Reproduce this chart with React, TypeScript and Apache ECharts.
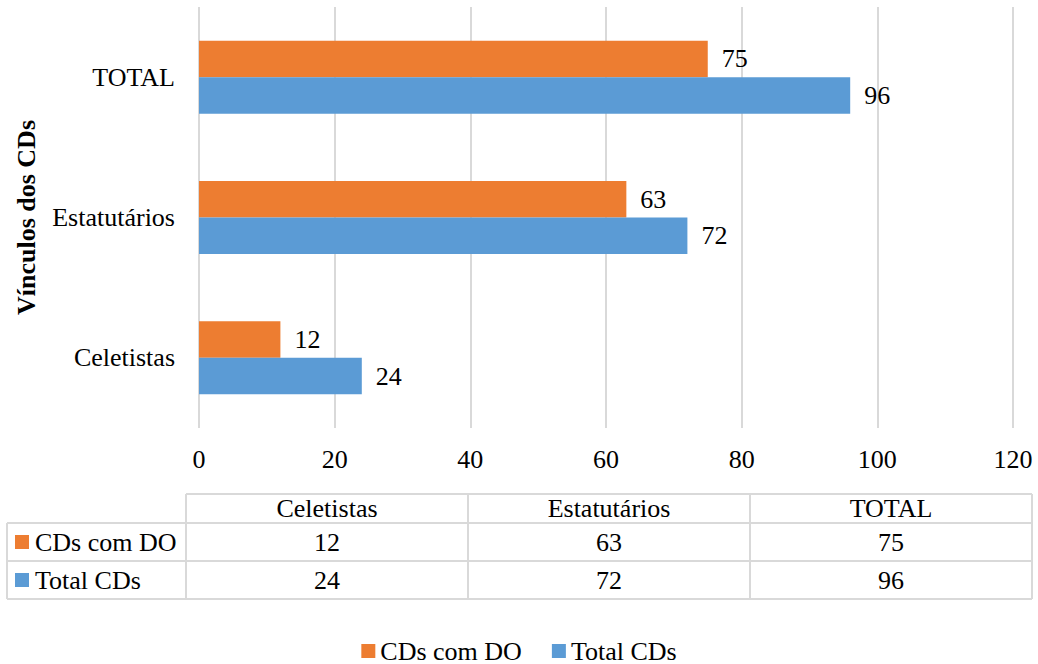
import React, { useEffect, useRef } from "react";
import * as echarts from "echarts";

const categories = ["Celetistas", "Estatutários", "TOTAL"];
const seriesNames = ["CDs com DO", "Total CDs"];
const comDO = [12, 63, 75];
const totalCDs = [24, 72, 96];
const axisTicks = [0, 20, 40, 60, 80, 100, 120];
const axisTitle = "Vínculos dos CDs";

const COLORS = ["#ED7D31", "#5B9BD5"];
const FONT = "'Liberation Serif', 'Times New Roman', serif";
const W = 1038;
const H = 664;

// data table geometry
const T_LEFT = 7;
const T_KEY_RIGHT = 186;
const T_RIGHT = 1032;
const T_ROWS = [494, 523, 561, 599];
const LINE = "#d9d9d9";

function buildTable() {
  const els: any[] = [];
  const colW = (T_RIGHT - T_KEY_RIGHT) / categories.length;
  const lineStyle = { stroke: LINE, lineWidth: 2 };
  // horizontal lines
  els.push({ type: "line", shape: { x1: T_KEY_RIGHT, y1: T_ROWS[0], x2: T_RIGHT, y2: T_ROWS[0] }, style: lineStyle });
  for (let i = 1; i < T_ROWS.length; i++) {
    els.push({ type: "line", shape: { x1: T_LEFT, y1: T_ROWS[i], x2: T_RIGHT, y2: T_ROWS[i] }, style: lineStyle });
  }
  // vertical lines
  els.push({ type: "line", shape: { x1: T_LEFT, y1: T_ROWS[1], x2: T_LEFT, y2: T_ROWS[3] }, style: lineStyle });
  for (let c = 0; c <= categories.length; c++) {
    const x = T_KEY_RIGHT + c * colW;
    els.push({ type: "line", shape: { x1: x, y1: T_ROWS[0], x2: x, y2: T_ROWS[3] }, style: lineStyle });
  }
  const rowsData = [comDO, totalCDs];
  const center = (r: number) => (T_ROWS[r] + T_ROWS[r + 1]) / 2;
  categories.forEach((cat, c) => {
    const cx = T_KEY_RIGHT + (c + 0.5) * colW;
    els.push({
      type: "text",
      x: cx,
      y: center(0),
      style: { text: cat, font: `26px ${FONT}`, fill: "#000", align: "center", verticalAlign: "middle" },
    });
    rowsData.forEach((arr, r) => {
      els.push({
        type: "text",
        x: cx,
        y: center(r + 1),
        style: { text: String(arr[c]), font: `26px ${FONT}`, fill: "#000", align: "center", verticalAlign: "middle" },
      });
    });
  });
  seriesNames.forEach((name, r) => {
    const cy = center(r + 1);
    els.push({ type: "rect", shape: { x: 15, y: cy - 7, width: 14, height: 14 }, style: { fill: COLORS[r] } });
    els.push({
      type: "text",
      x: 35,
      y: cy,
      style: { text: name, font: `26px ${FONT}`, fill: "#000", align: "left", verticalAlign: "middle" },
    });
  });
  return els;
}

export default function App() {
  const ref = useRef<HTMLDivElement>(null);
  useEffect(() => {
    if (!ref.current) return;
    const chart = echarts.init(ref.current, null, { renderer: "svg" });
    const labelStyle = {
      show: true,
      position: "right" as const,
      distance: 14,
      fontSize: 26,
      fontFamily: FONT,
      color: "#000",
    };
    chart.setOption({
      animation: false,
      textStyle: { fontFamily: FONT },
      grid: { left: 199, right: 25, top: 7, bottom: H - 428 },
      legend: {
        bottom: 0,
        padding: [0, 5, 0, 5],
        left: "center",
        icon: "rect",
        itemWidth: 14,
        itemHeight: 14,
        itemGap: 30,
        data: seriesNames,
        textStyle: { fontSize: 26, fontFamily: FONT, color: "#000" },
      },
      xAxis: {
        type: "value",
        min: axisTicks[0],
        max: axisTicks[axisTicks.length - 1],
        interval: axisTicks[1] - axisTicks[0],
        axisLine: { show: false },
        axisTick: { show: false },
        splitLine: { show: true, lineStyle: { color: LINE, width: 2 } },
        axisLabel: { fontSize: 26, fontFamily: FONT, color: "#000", margin: 18 },
      },
      yAxis: {
        type: "category",
        data: categories,
        axisLine: { show: false },
        axisTick: { show: false },
        axisLabel: { fontSize: 26, fontFamily: FONT, color: "#000", margin: 24 },
        name: axisTitle,
        nameLocation: "middle",
        nameGap: 160,
        nameTextStyle: { fontSize: 26, fontWeight: "bold", fontFamily: FONT, color: "#000" },
      },
      series: [
        {
          name: seriesNames[0],
          type: "bar",
          data: comDO,
          barWidth: 36.5,
          barGap: "0%",
          itemStyle: { color: COLORS[0] },
          label: labelStyle,
        },
        {
          name: seriesNames[1],
          type: "bar",
          data: totalCDs,
          barWidth: 36.5,
          barGap: "0%",
          itemStyle: { color: COLORS[1] },
          label: labelStyle,
        },
      ],
      graphic: buildTable(),
    });
    return () => chart.dispose();
  }, []);
  return (
    <div
      ref={ref}
      style={{ position: "fixed", left: 0, top: 0, width: W, height: H, background: "#fff" }}
    />
  );
}
